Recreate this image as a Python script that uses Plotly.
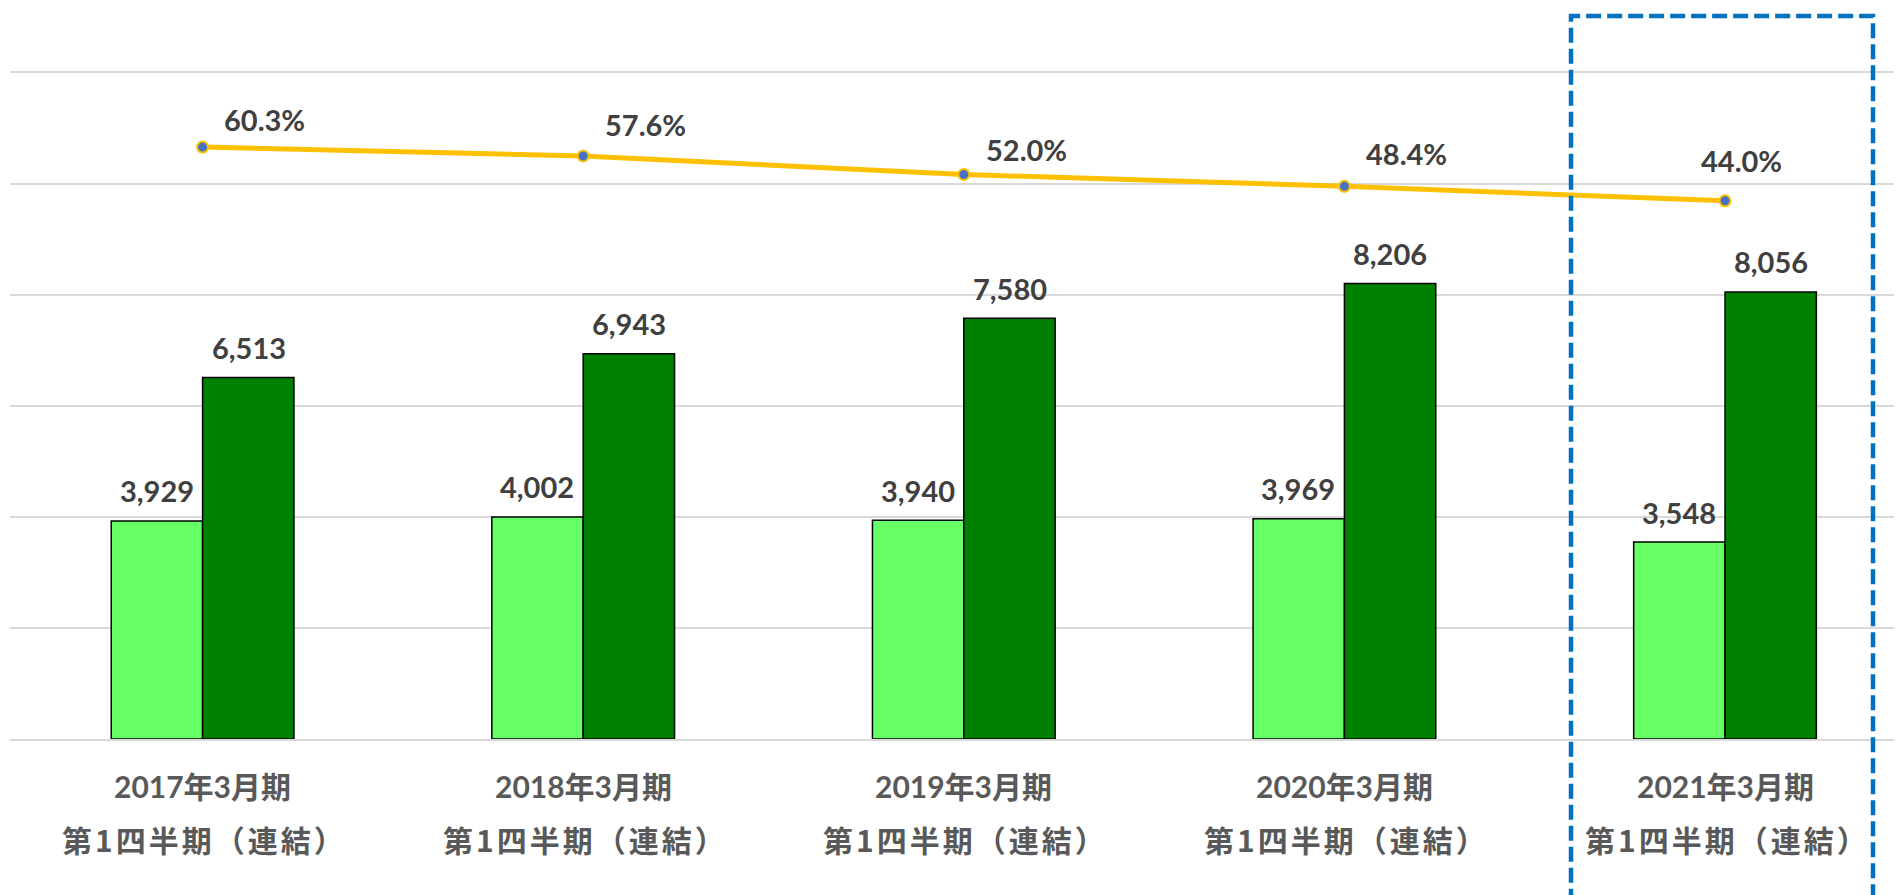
import plotly.graph_objects as go

# ---- data ----
periods = ["2017年3月期", "2018年3月期", "2019年3月期", "2020年3月期", "2021年3月期"]
quarter_label = "第1四半期（連結）"
series_a = [3929, 4002, 3940, 3969, 3548]
series_b = [6513, 6943, 7580, 8206, 8056]
ratio = [0.603, 0.576, 0.520, 0.484, 0.440]

# ---- styles ----
ratio_label_xshift = [62, 62, 63, 62, 16]
ratio_label_yshift = [28, 32, 25, 33, 40]
LABEL_FONT = dict(family="Lato, Noto Sans CJK JP", size=29, color="#404040", weight="bold")
CAT_FONT = dict(family="Lato, Noto Sans CJK JP", size=30, color="#595959", weight="bold")
CAT_FONT2 = dict(family="Noto Sans CJK JP", size=30, color="#595959", weight="bold")

fig = go.Figure()
fig.add_trace(go.Bar(
    x=periods, y=series_a, name="A",
    marker=dict(color="#66FF66", line=dict(color="#000000", width=1.5)),
    showlegend=False, hoverinfo="skip",
))
fig.add_trace(go.Bar(
    x=periods, y=series_b, name="B",
    marker=dict(color="#008000", line=dict(color="#000000", width=1.5)),
    showlegend=False, hoverinfo="skip",
))
fig.add_trace(go.Scatter(
    x=periods, y=ratio, yaxis="y2", mode="lines+markers",
    line=dict(color="#FFC000", width=5),
    marker=dict(color="#4472C4", size=11, line=dict(color="#FFC000", width=2)),
    showlegend=False, hoverinfo="skip",
))

annotations = []
for i, p in enumerate(periods):
    annotations.append(dict(x=p, y=series_a[i], xref="x", yref="y", text=f"{series_a[i]:,}",
                            showarrow=False, xshift=-46, yshift=30, yanchor="middle", font=LABEL_FONT))
    annotations.append(dict(x=p, y=series_b[i], xref="x", yref="y", text=f"{series_b[i]:,}",
                            showarrow=False, xshift=46, yshift=30, yanchor="middle", font=LABEL_FONT))
    annotations.append(dict(x=p, y=ratio[i], xref="x", yref="y2", text=f"{ratio[i]*100:.1f}%",
                            showarrow=False, xshift=ratio_label_xshift[i], yshift=ratio_label_yshift[i],
                            yanchor="middle", font=LABEL_FONT))
    annotations.append(dict(x=p, y=0, xref="x", yref="paper", text=p, showarrow=False,
                            yshift=-47, yanchor="middle", font=CAT_FONT))
    annotations.append(dict(x=p, y=0, xref="x", yref="paper",
                            text=f'<span style="letter-spacing:3px">{quarter_label}</span>',
                            showarrow=False, xshift=2, yshift=-100, yanchor="middle", font=CAT_FONT2))

fig.update_layout(
    width=1894, height=887,
    margin=dict(l=2, r=0, t=65, b=156),
    paper_bgcolor="white", plot_bgcolor="white",
    barmode="group", bargap=0.52, bargroupgap=0,
    xaxis=dict(range=[-0.506, 4.465], showticklabels=False, showgrid=False, zeroline=False,
               showline=True, linecolor="#D9D9D9", linewidth=2, mirror=True, ticks=""),
    yaxis=dict(range=[0, 12000], dtick=2000, showticklabels=False, showgrid=True,
               gridcolor="#D9D9D9", gridwidth=2, zeroline=False, showline=False, ticks=""),
    yaxis2=dict(range=[-1.194, 0.828], overlaying="y", side="right", showticklabels=False,
                showgrid=False, zeroline=False, showline=False, ticks=""),
    annotations=annotations,
    shapes=[dict(type="rect", xref="paper", yref="paper",
                 x0=(1571 - 10) / 1892, x1=(1873 - 10) / 1892,
                 y0=-0.26, y1=(739 - 16) / 666,
                 line=dict(color="#0070C0", width=4.5, dash="15px,6px"),
                 fillcolor="rgba(0,0,0,0)", layer="above")],
)

fig.write_html("out.html")
